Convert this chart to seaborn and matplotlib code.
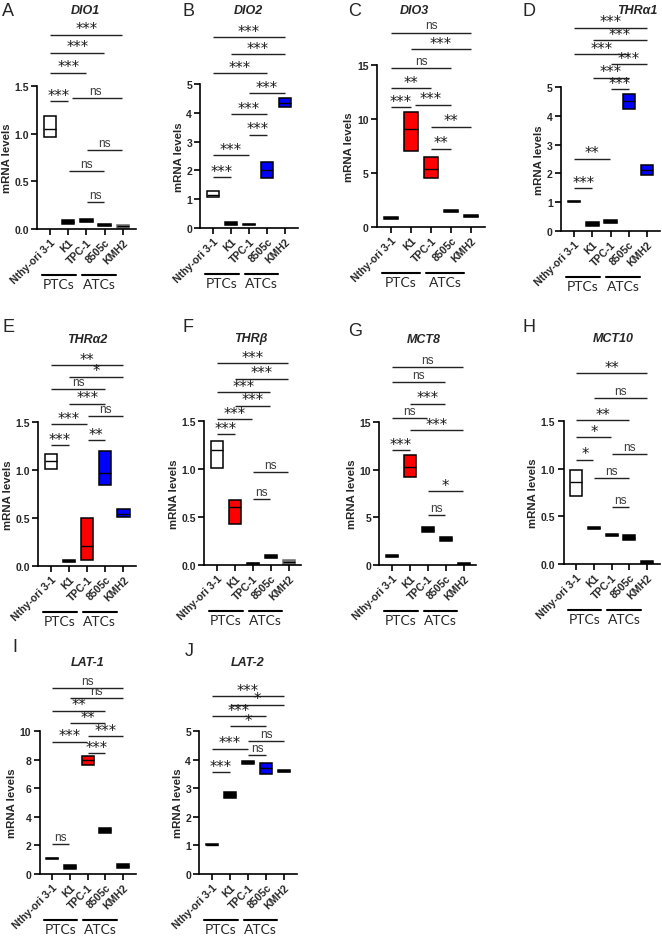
import numpy as np
import pandas as pd
import matplotlib
matplotlib.use("Agg")
import matplotlib.pyplot as plt
from matplotlib.lines import Line2D
import seaborn as sns

# ---------------- data ----------------
cell_lines = ["Nthy-ori 3-1", "K1", "TPC-1", "8505c", "KMH2"]
groups = ["PTCs", "ATCs"]

dio1_low = [0.96, 0.05, 0.07, 0.035, 0.01]
dio1_mean = [1.05, 0.07, 0.085, 0.045, 0.03]
dio1_high = [1.19, 0.09, 0.10, 0.055, 0.045]
dio1_tests = [(0, 1, "***"), (1, 4, "ns"), (2, 4, "ns"), (1, 3, "ns"), (2, 3, "ns"),
              (0, 2, "***"), (0, 3, "***"), (0, 4, "***")]

dio2_low = [1.06, 0.10, 0.10, 1.72, 4.21]
dio2_mean = [1.16, 0.15, 0.13, 2.01, 4.35]
dio2_high = [1.30, 0.20, 0.15, 2.30, 4.50]
dio2_tests = [(0, 1, "***"), (0, 2, "***"), (2, 3, "***"), (1, 3, "***"), (2, 4, "***"),
              (0, 3, "***"), (1, 4, "***"), (0, 4, "***")]

dio3_low = [0.71, 7.02, 4.56, 1.39, 0.89]
dio3_mean = [0.80, 9.09, 5.33, 1.50, 1.00]
dio3_high = [0.92, 10.62, 6.47, 1.60, 1.08]
dio3_tests = [(0, 1, "***"), (1, 3, "***"), (2, 4, "**"), (2, 3, "**"), (0, 2, "**"),
              (0, 3, "ns"), (1, 4, "***"), (0, 4, "ns")]

thra1_low = [1.00, 0.17, 0.28, 4.25, 1.95]
thra1_mean = [1.03, 0.24, 0.32, 4.51, 2.12]
thra1_high = [1.05, 0.31, 0.37, 4.75, 2.30]
thra1_tests = [(0, 1, "***"), (0, 2, "**"), (2, 3, "***"), (1, 3, "***"), (2, 4, "***"),
               (0, 3, "***"), (1, 4, "***"), (0, 4, "***")]

thra2_low = [1.01, 0.04, 0.06, 0.84, 0.51]
thra2_mean = [1.09, 0.05, 0.206, 0.97, 0.54]
thra2_high = [1.17, 0.06, 0.495, 1.20, 0.59]
thra2_tests = [(0, 1, "***"), (2, 3, "**"), (0, 2, "***"), (2, 4, "ns"), (1, 3, "***"),
               (0, 3, "ns"), (1, 4, "*"), (0, 4, "**")]

thrb_low = [1.01, 0.43, 0.01, 0.07, 0.0]
thrb_mean = [1.20, 0.60, 0.018, 0.085, 0.03]
thrb_high = [1.29, 0.677, 0.025, 0.10, 0.05]
thrb_tests = [(0, 1, "***"), (0, 2, "***"), (1, 3, "***"), (0, 3, "***"), (1, 4, "***"),
              (0, 4, "***"), (2, 3, "ns"), (2, 4, "ns")]

mct8_low = [0.80, 9.23, 3.46, 2.55, 0.0]
mct8_mean = [0.95, 10.28, 3.70, 2.70, 0.12]
mct8_high = [1.08, 11.54, 3.99, 2.90, 0.25]
mct8_tests = [(0, 1, "***"), (1, 4, "***"), (0, 2, "ns"), (1, 3, "***"), (0, 3, "ns"),
              (0, 4, "ns"), (2, 3, "ns"), (2, 4, "*")]

mct10_low = [0.715, 0.37, 0.29, 0.25, 0.0]
mct10_mean = [0.855, 0.38, 0.30, 0.275, 0.015]
mct10_high = [0.99, 0.39, 0.31, 0.30, 0.03]
mct10_tests = [(0, 1, "*"), (0, 2, "*"), (0, 3, "**"), (1, 4, "ns"), (0, 4, "**"),
               (2, 4, "ns"), (1, 3, "ns"), (2, 3, "ns")]

lat1_low = [1.07, 0.35, 7.65, 2.86, 0.40]
lat1_mean = [1.11, 0.50, 7.95, 3.05, 0.53]
lat1_high = [1.15, 0.65, 8.26, 3.23, 0.67]
lat1_tests = [(0, 1, "ns"), (2, 3, "***"), (0, 2, "***"), (2, 4, "***"), (1, 3, "**"),
              (0, 3, "**"), (1, 4, "ns"), (0, 4, "ns")]

lat2_low = [1.00, 2.65, 3.83, 3.48, 3.55]
lat2_mean = [1.03, 2.76, 3.90, 3.69, 3.60]
lat2_high = [1.06, 2.87, 3.95, 3.87, 3.64]
lat2_tests = [(0, 1, "***"), (0, 2, "***"), (2, 3, "ns"), (2, 4, "ns"), (1, 3, "*"),
              (0, 3, "***"), (1, 4, "*"), (0, 4, "***")]

# ---------------- layout / style ----------------
W, H = 662, 937
WHITE, BLACK, RED, BLUE, GRAY = "#ffffff", "#000000", "#ff0000", "#0000ff", "#808080"

panels = [
    dict(letter="A", title="DIO1", low=dio1_low, mean=dio1_mean, high=dio1_high, tests=dio1_tests,
         brk=[1.34, 1.37, 0.83, 0.61, 0.28, 1.64, 1.85, 2.04],
         colors=[WHITE, BLACK, BLACK, BLACK, GRAY], ylim=1.5, yticks=[0, 0.5, 1.0, 1.5], fmt="{:.1f}",
         x0=50, dx=18.2, ytop=87, ybot=230, lpos=(2, 12), tpos=(85, 11)),
    dict(letter="B", title="DIO2", low=dio2_low, mean=dio2_mean, high=dio2_high, tests=dio2_tests,
         brk=[1.76, 2.53, 3.24, 3.96, 4.68, 5.38, 6.04, 6.62],
         colors=[WHITE, BLACK, BLACK, BLUE, BLUE], ylim=5, yticks=[0, 1, 2, 3, 4, 5], fmt="{:.0f}",
         x0=213, dx=18.0, ytop=85, ybot=229, lpos=(183, 12), tpos=(248, 11)),
    dict(letter="C", title="DIO3", low=dio3_low, mean=dio3_mean, high=dio3_high, tests=dio3_tests,
         brk=[11.09, 11.33, 9.30, 7.24, 12.84, 14.72, 16.48, 18.0],
         colors=[BLACK, RED, RED, BLACK, BLACK], ylim=15, yticks=[0, 5, 10, 15], fmt="{:.0f}",
         x0=391, dx=20.0, ytop=66, ybot=228, lpos=(348, 12), tpos=(414, 11)),
    dict(letter="D", title="THRα1", low=thra1_low, mean=thra1_mean, high=thra1_high, tests=thra1_tests,
         brk=[1.49, 2.51, 4.92, 5.32, 5.79, 6.13, 6.62, 7.06],
         colors=[BLACK, BLACK, BLACK, BLUE, BLUE], ylim=5, yticks=[0, 1, 2, 3, 4, 5], fmt="{:.0f}",
         x0=574, dx=18.3, ytop=88, ybot=232, lpos=(523, 12), tpos=(637, 11)),
    dict(letter="E", title="THRα2", low=thra2_low, mean=thra2_mean, high=thra2_high, tests=thra2_tests,
         brk=[1.26, 1.31, 1.48, 1.56, 1.69, 1.84, 1.97, 2.09],
         colors=[WHITE, BLACK, RED, BLUE, BLUE], ylim=1.5, yticks=[0, 0.5, 1.0, 1.5], fmt="{:.1f}",
         x0=51, dx=18.1, ytop=423, ybot=567, lpos=(2, 327), tpos=(87, 340)),
    dict(letter="F", title="THRβ", low=thrb_low, mean=thrb_mean, high=thrb_high, tests=thrb_tests,
         brk=[1.36, 1.52, 1.66, 1.80, 1.94, 2.10, 0.69, 0.97],
         colors=[WHITE, RED, BLACK, BLACK, GRAY], ylim=1.5, yticks=[0, 0.5, 1.0, 1.5], fmt="{:.1f}",
         x0=217, dx=17.9, ytop=422, ybot=566, lpos=(183, 327), tpos=(251, 339)),
    dict(letter="G", title="MCT8", low=mct8_low, mean=mct8_mean, high=mct8_high, tests=mct8_tests,
         brk=[12.06, 14.13, 15.38, 16.92, 19.23, 20.77, 5.24, 7.76],
         colors=[BLACK, RED, BLACK, BLACK, BLACK], ylim=15, yticks=[0, 5, 10, 15], fmt="{:.0f}",
         x0=392, dx=17.9, ytop=423, ybot=566, lpos=(348, 331), tpos=(424, 340)),
    dict(letter="H", title="MCT10", low=mct10_low, mean=mct10_mean, high=mct10_high, tests=mct10_tests,
         brk=[1.095, 1.33, 1.51, 1.74, 2.00, 1.15, 0.90, 0.60],
         colors=[WHITE, BLACK, BLACK, BLACK, BLACK], ylim=1.5, yticks=[0, 0.5, 1.0, 1.5], fmt="{:.1f}",
         x0=576, dx=17.8, ytop=422, ybot=565, lpos=(523, 327), tpos=(613, 339)),
    dict(letter="I", title="LAT-1", low=lat1_low, mean=lat1_mean, high=lat1_high, tests=lat1_tests,
         brk=[2.09, 8.44, 9.26, 9.65, 10.56, 11.42, 12.28, 13.02],
         colors=[BLACK, BLACK, RED, BLACK, BLACK], ylim=10, yticks=[0, 2, 4, 6, 8, 10], fmt="{:.0f}",
         x0=52, dx=17.8, ytop=732, ybot=875, lpos=(12, 648), tpos=(88, 663)),
    dict(letter="J", title="LAT-2", low=lat2_low, mean=lat2_mean, high=lat2_high, tests=lat2_tests,
         brk=[3.57, 4.38, 4.16, 4.65, 5.17, 5.52, 5.92, 6.22],
         colors=[BLACK, BLACK, BLACK, BLUE, BLACK], ylim=5, yticks=[0, 1, 2, 3, 4, 5], fmt="{:.0f}",
         x0=212, dx=18.0, ytop=732, ybot=875, lpos=(185, 652), tpos=(248, 663)),
]

sns.set_theme(style="ticks")
plt.rcParams["font.family"] = ["Liberation Sans", "DejaVu Sans"]
plt.rcParams["axes.linewidth"] = 1.0

fig = plt.figure(figsize=(W / 100, H / 100), dpi=100)

XLO, XHI = -0.7, 4.7


def fx(px):
    return px / W


def fy(py):
    return 1 - py / H


for p in panels:
    left = p["x0"] + XLO * p["dx"]
    right = p["x0"] + XHI * p["dx"]
    ax = fig.add_axes([fx(left), fy(p["ybot"]), (right - left) / W, (p["ybot"] - p["ytop"]) / H])

    rows = []
    for c, lo, mu, hi in zip(cell_lines, p["low"], p["mean"], p["high"]):
        for v in (lo, lo, mu, hi, hi):
            rows.append({"cell": c, "value": v})
    df = pd.DataFrame(rows)
    pal = dict(zip(cell_lines, p["colors"]))
    sns.boxplot(data=df, x="cell", y="value", hue="cell", order=cell_lines, hue_order=cell_lines,
                palette=pal, width=0.68, whis=0, showcaps=False, showfliers=False, saturation=1,
                linecolor="black", linewidth=1.1, legend=False, dodge=False, ax=ax,
                medianprops=dict(color="black", linewidth=1.0),
                whiskerprops=dict(linewidth=0))
    for patch in ax.patches:
        fc = patch.get_facecolor()
        if abs(fc[0] - 0.5) < 0.05 and abs(fc[1] - 0.5) < 0.05:
            patch.set_edgecolor("#6e6e6e")

    ax.set_xlim(XLO, XHI)
    ax.set_ylim(0, p["ylim"])
    ax.set_yticks(p["yticks"])
    ax.set_yticklabels([p["fmt"].format(t) for t in p["yticks"]], fontsize=7.5, fontweight="bold")
    ax.set_xticks(range(len(cell_lines)))
    ax.set_xticklabels(cell_lines, rotation=45, ha="right", rotation_mode="anchor",
                       fontsize=7.6, fontweight="bold")
    ax.tick_params(axis="both", direction="out", length=4, width=1.2, color="black", pad=2)
    ax.set_xlabel("")
    ax.set_ylabel("mRNA levels", fontsize=8.2, fontweight="bold", labelpad=2)
    sns.despine(ax=ax)
    for s in ("left", "bottom"):
        ax.spines[s].set_linewidth(1.2)
        ax.spines[s].set_color("black")
    ax.set_facecolor("none")

    # significance brackets
    tol = 0.03 * p["ylim"]
    for (i, j, lab), y in zip(p["tests"], p["brk"]):
        x1, x2 = i + 0.02, j - 0.02
        for (k, m, _), y2 in zip(p["tests"], p["brk"]):
            if m == i and abs(y2 - y) < tol and (k, m) != (i, j):
                x1 = i + 0.2
        ax.plot([x1, x2], [y, y], color="#222222", lw=1.0, clip_on=False, solid_capstyle="butt")
        if lab == "ns":
            ax.annotate(lab, xy=((i + j) / 2, y), xytext=(0, 3.0), textcoords="offset points",
                        ha="center", va="baseline", fontsize=8.5, color="#3a3a3a",
                        annotation_clip=False)
        else:
            ax.annotate(lab, xy=((i + j) / 2, y), xytext=(0, 1.0), textcoords="offset points",
                        ha="center", va="baseline", fontsize=10.5, color="#1a1a1a",
                        family="DejaVu Sans", annotation_clip=False)

    # titles and letters
    fig.text(fx(p["tpos"][0]), fy(p["tpos"][1]), p["title"], ha="center", va="center",
             fontsize=9, fontweight="bold", fontstyle="italic")
    fig.text(fx(p["lpos"][0]), fy(p["lpos"][1]), p["letter"], ha="left", va="center", fontsize=13)

    # group annotation lines
    yl = p["ybot"] + 46
    yt = p["ybot"] + 55
    for g, (u1, u2) in zip(groups, [(-0.44, 1.43), (1.76, 3.63)]):
        xa, xb = p["x0"] + u1 * p["dx"], p["x0"] + u2 * p["dx"]
        fig.add_artist(Line2D([fx(xa), fx(xb)], [fy(yl), fy(yl)], color="black", lw=1.5,
                              transform=fig.transFigure))
        fig.text(fx((xa + xb) / 2), fy(yt), g, ha="center", va="center", fontsize=10,
                 family=["Lato", "DejaVu Sans"])

fig.savefig("out.png", dpi=100, facecolor="white")
